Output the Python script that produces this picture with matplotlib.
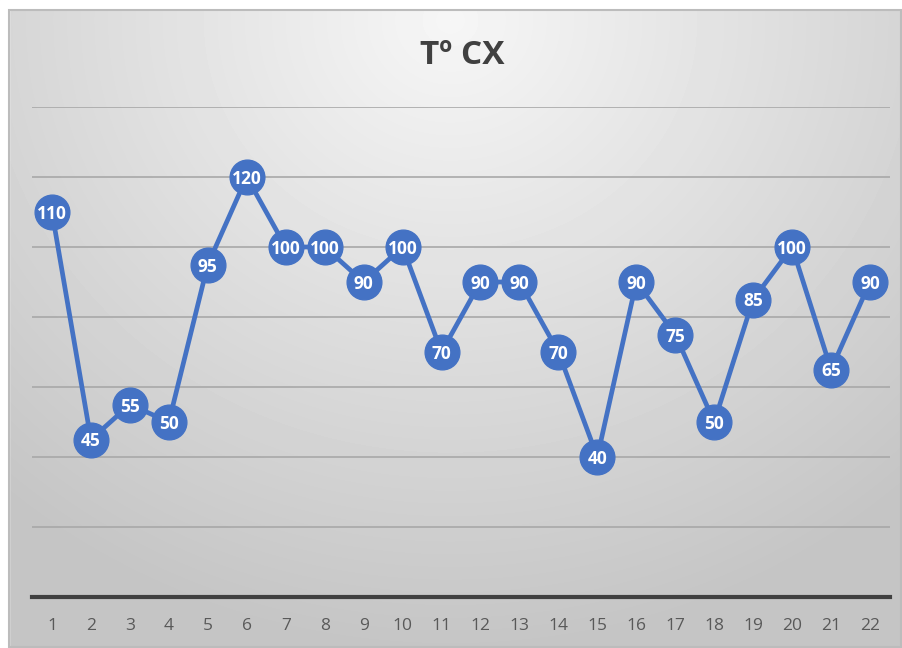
import matplotlib.pyplot as plt
import numpy as np
from matplotlib.patches import Rectangle

# data
days = list(range(1, 23))
temps = [110, 45, 55, 50, 95, 120, 100, 100, 90, 100, 70,
         90, 90, 70, 40, 90, 75, 50, 85, 100, 65, 90]
title = "Tº CX"

W, H = 903, 648
fig = plt.figure(figsize=(W / 100, H / 100), dpi=100)

# background: radial grey gradient, lightest near top centre
bg = fig.add_axes([0, 0, 1, 1], zorder=-10)
yy, xx = np.mgrid[0:H, 0:W]
d = np.sqrt(((xx - 450) / 700.0) ** 2 + ((yy - 20) / 650.0) ** 2)
shade = np.clip(0.965 - 0.2 * d, 0.77, 0.965)
bg.imshow(shade, cmap="gray", vmin=0, vmax=1, extent=[0, W, H, 0], aspect="auto")
bg.add_patch(Rectangle((0, 0), W, 9, color="white", zorder=2))
bg.add_patch(Rectangle((0, 0), 9, H, color="white", zorder=2))
bg.add_patch(Rectangle((9.5, 9.5), W - 11, H - 11, fill=False, ec="#bcbcbc", lw=1.5, zorder=3))
bg.set_xlim(0, W)
bg.set_ylim(H, 0)
bg.axis("off")

ax = fig.add_axes([32.5 / W, 51 / H, 857 / W, 490 / H])
ax.patch.set_alpha(0)
ax.set_xlim(0.5, 22.5)
ax.set_ylim(0, 140)

for gy in range(20, 141, 20):
    ax.axhline(gy, color="#a8a8a8", lw=1.2, zorder=1)
ax.axhline(0, color="#404040", lw=3, zorder=2, clip_on=False)

ax.plot(days, temps, color="#4472C4", lw=3.4, marker="o", ms=25,
        mfc="#4472C4", mec="#4472C4", zorder=3)
for x, v in zip(days, temps):
    ax.text(x, v, str(v), ha="center", va="center_baseline", color="white",
            fontsize=12.5, fontweight="bold", family="Open Sans", zorder=4)

for s in ax.spines.values():
    s.set_visible(False)
ax.set_yticks([])
ax.set_xticks(days)
ax.set_xticklabels([str(d) for d in days], family="Open Sans", fontsize=12.5, color="#595959")
ax.tick_params(axis="x", length=0, pad=15)

fig.text(462 / W, 1 - 55 / H, title, ha="center", va="center", fontsize=24,
         fontweight="bold", family="Open Sans", color="#404040")

fig.savefig("out.png", dpi=100)
